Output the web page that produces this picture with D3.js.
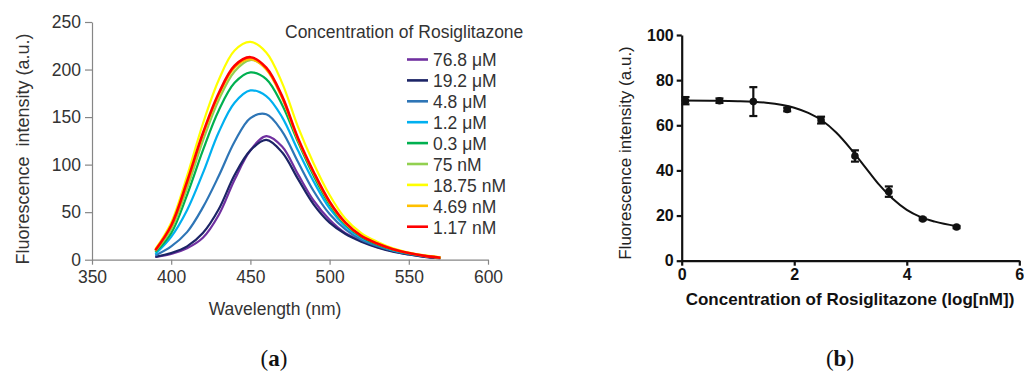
<!DOCTYPE html>
<html>
<head>
<meta charset="utf-8">
<script src="https://cdn.jsdelivr.net/npm/d3@7"></script>
<style>
  body { margin: 0; background: #fff; }
  svg { display: block; font-family: "Liberation Sans", Arial, sans-serif; }
</style>
</head>
<body>
<div id="chart"></div>
<script>
// ---------- DATA (a): emission spectra ----------
wavelengths = [390, 400, 410, 420, 430, 440, 450, 460, 470, 480, 490, 500, 510, 520, 530, 540, 550, 560, 570];
seriesLabels = ["76.8 \u03bcM", "19.2 \u03bcM", "4.8 \u03bcM", "1.2 \u03bcM", "0.3 \u03bcM", "75 nM", "18.75 nM", "4.69 nM", "1.17 nM"];
conc768uM  = [3, 6, 12, 23, 47, 84, 115, 130, 119, 90, 62, 42, 28, 20, 13.5, 9, 5.5, 3, 1.5];
conc192uM  = [3, 7, 14, 28, 53, 89, 115, 126, 113, 85, 58, 39, 27, 19, 13, 8.5, 5.5, 3, 1.5];
conc48uM   = [4.5, 14, 29, 55, 88, 124, 149, 153, 135, 103, 72, 48, 32, 21, 14.5, 9.5, 6, 3.5, 2];
conc12uM   = [6, 24, 52, 91, 134, 165, 178, 172, 150, 115, 82, 54, 35, 23, 16, 10, 6.5, 4, 2];
conc03uM   = [8, 28, 68, 115, 157, 186, 197, 190, 163, 124, 88, 58, 37, 24, 16, 10.5, 6.5, 4, 2];
conc75nM   = [9, 32, 75, 125, 168, 198, 210, 201, 171, 127, 91, 60, 38, 25, 17, 11, 7, 4, 2];
conc1875nM = [11, 39, 88, 143, 189, 220, 229, 218, 186, 140, 101, 68, 43, 28, 19, 12, 7.5, 4.5, 2.5];
conc469nM  = [10, 35, 80, 131, 173, 202, 211, 200, 170, 126, 91, 60, 38, 25, 17, 11, 7, 4, 2];
conc117nM  = [10, 36, 82, 133, 175, 204, 213, 202, 172, 128, 92, 61, 39, 25, 17, 11, 7, 4, 2];
spectra = [conc768uM, conc192uM, conc48uM, conc12uM, conc03uM, conc75nM, conc1875nM, conc469nM, conc117nM];
xTicksA = [350, 400, 450, 500, 550, 600];
yTicksA = [0, 50, 100, 150, 200, 250];

// ---------- DATA (b): dose response ----------
logConc   = [0.068, 0.671, 1.273, 1.875, 2.477, 3.079, 3.681, 4.283, 4.885];
meanInt   = [70.9, 70.9, 70.5, 67.0, 62.3, 46.4, 30.6, 18.5, 14.9];
errInt    = [1.6, 1.0, 6.4, 0.8, 1.5, 2.5, 2.3, 0.5, 0.5];
fitX      = [0, 0.5, 1, 1.5, 2, 2.25, 2.5, 2.75, 3, 3.25, 3.5, 3.75, 4, 4.25, 4.5, 4.885];
fitY      = [71.0, 70.9, 70.7, 70.0, 67.8, 65.5, 62.0, 56.7, 49.7, 41.8, 33.9, 27.4, 22.5, 19.3, 17.3, 15.3];
xTicksB = [0, 2, 4, 6];
yTicksB = [0, 20, 40, 60, 80, 100];

// COLOR LOOKUP
color = function(d) {
  lookup = { "76.8 \u03bcM": "#7030a0",
             "19.2 \u03bcM": "#1c2466",
             "4.8 \u03bcM": "#2e75b6",
             "1.2 \u03bcM": "#00b0f0",
             "0.3 \u03bcM": "#00b050",
             "75 nM": "#92d050",
             "18.75 nM": "#ffff00",
             "4.69 nM": "#ffc000",
             "1.17 nM": "#ff0000" };
  return lookup[d];
}

svg = d3.select("#chart").append("svg")
  .attr("width", 1024)
  .attr("height", 374);

// ================= CHART (a) =================
xA = d3.scaleLinear().domain([350, 600]).range([92, 488]);
yA = d3.scaleLinear().domain([0, 250]).range([259.7, 22]);
axisGrey = "#868686";
textGrey = "#333";

gxA = svg.append("g")
  .attr("transform", "translate(0," + yA(0) + ")")
  .call(d3.axisBottom(xA).tickValues(xTicksA).tickSize(5).tickSizeOuter(0).tickPadding(6));
gyA = svg.append("g")
  .attr("transform", "translate(" + xA(350) + ",0)")
  .call(d3.axisLeft(yA).tickValues(yTicksA).tickSize(7).tickSizeOuter(0).tickPadding(4));

[gxA, gyA].forEach(function(g) {
  g.select(".domain").attr("stroke", axisGrey).attr("stroke-width", 1.2);
  g.selectAll(".tick line").attr("stroke", axisGrey).attr("stroke-width", 1.2);
  g.selectAll(".tick text")
    .attr("fill", textGrey)
    .style("font-size", "17.5px")
    .style("font-family", "'Liberation Sans', Arial, sans-serif");
});

svg.append("text")
  .text("Wavelength (nm)")
  .attr("x", 275).attr("y", 315)
  .attr("text-anchor", "middle")
  .attr("fill", textGrey)
  .style("font-size", "17.5px");

svg.append("text")
  .text("Fluorescence  intensity (a.u.)")
  .attr("transform", "translate(29,149) rotate(-90)")
  .attr("text-anchor", "middle")
  .attr("fill", textGrey)
  .style("white-space", "pre")
  .style("font-size", "18px");

lineA = d3.line()
  .x(function(d, i) { return xA(wavelengths[i]); })
  .y(function(d) { return yA(d); })
  .curve(d3.curveCatmullRom.alpha(0.5));

svg.append("g").selectAll("path")
  .data(spectra)
  .enter()
  .append("path")
    .attr("d", lineA)
    .attr("fill", "none")
    .attr("stroke", function(d, i) { return color(seriesLabels[i]); })
    .attr("stroke-width", function(d, i) { return i == 8 ? 2.6 : 2.2; });

// LEGEND
svg.append("text")
  .text("Concentration of Rosiglitazone")
  .attr("x", 285).attr("y", 37.5)
  .attr("fill", textGrey)
  .style("font-size", "17.5px");

legend = svg.append("g");
legend.selectAll("line")
  .data(seriesLabels)
  .enter()
  .append("line")
    .attr("x1", 407).attr("x2", 428)
    .attr("y1", function(d, i) { return 59.5 + i * 20.9; })
    .attr("y2", function(d, i) { return 59.5 + i * 20.9; })
    .attr("stroke", function(d) { return color(d); })
    .attr("stroke-width", 2.6);
legend.selectAll("text")
  .data(seriesLabels)
  .enter()
  .append("text")
    .text(function(d) { return d; })
    .attr("x", 433)
    .attr("y", function(d, i) { return 66.3 + i * 20.9; })
    .attr("fill", textGrey)
    .style("font-size", "17.5px");

// ================= CHART (b) =================
xB = d3.scaleLinear().domain([0, 6]).range([681.7, 1019.3]);
yB = d3.scaleLinear().domain([0, 100]).range([260.7, 35]);

gxB = svg.append("g")
  .attr("transform", "translate(0," + yB(0) + ")")
  .call(d3.axisBottom(xB).tickValues(xTicksB).tickFormat(d3.format("d")).tickSize(5).tickSizeOuter(0).tickPadding(3));
gyB = svg.append("g")
  .attr("transform", "translate(" + xB(0) + ",0)")
  .call(d3.axisLeft(yB).tickValues(yTicksB).tickFormat(d3.format("d")).tickSize(5).tickSizeOuter(0).tickPadding(3));

[gxB, gyB].forEach(function(g) {
  g.select(".domain").attr("stroke", "#111").attr("stroke-width", 2.2);
  g.selectAll(".tick line").attr("stroke", "#111").attr("stroke-width", 2.2);
  g.selectAll(".tick text")
    .attr("fill", "#111")
    .style("font-size", "16px")
    .style("font-weight", "bold")
    .style("font-family", "'Liberation Sans', Arial, sans-serif");
});

svg.append("text")
  .text("Concentration of Rosiglitazone (log[nM])")
  .attr("x", 850).attr("y", 305)
  .attr("text-anchor", "middle")
  .attr("fill", "#111")
  .style("font-weight", "bold")
  .style("font-size", "17px");

svg.append("text")
  .text("Fluorescence intensity (a.u.)")
  .attr("transform", "translate(631,153) rotate(-90)")
  .attr("text-anchor", "middle")
  .attr("fill", "#222")
  .style("font-size", "17px");

// FIT CURVE
lineB = d3.line()
  .x(function(d, i) { return xB(fitX[i]); })
  .y(function(d) { return yB(d); })
  .curve(d3.curveMonotoneX);

svg.append("path")
  .datum(fitY)
  .attr("d", lineB)
  .attr("fill", "none")
  .attr("stroke", "#111")
  .attr("stroke-width", 2);

// ERROR BARS
errG = svg.append("g").attr("stroke", "#111").attr("stroke-width", 2.2);
errG.selectAll(".vbar")
  .data(meanInt)
  .enter()
  .append("line")
    .attr("x1", function(d, i) { return xB(logConc[i]); })
    .attr("x2", function(d, i) { return xB(logConc[i]); })
    .attr("y1", function(d, i) { return yB(d + errInt[i]); })
    .attr("y2", function(d, i) { return yB(d - errInt[i]); });
[1, -1].forEach(function(s) {
  errG.selectAll(".cap" + s)
    .data(meanInt)
    .enter()
    .append("line")
      .attr("x1", function(d, i) { return xB(logConc[i]) - 4; })
      .attr("x2", function(d, i) { return xB(logConc[i]) + 4; })
      .attr("y1", function(d, i) { return yB(d + s * errInt[i]); })
      .attr("y2", function(d, i) { return yB(d + s * errInt[i]); });
});

// POINTS
svg.append("g").selectAll("circle")
  .data(meanInt)
  .enter()
  .append("circle")
    .attr("cx", function(d, i) { return xB(logConc[i]); })
    .attr("cy", function(d) { return yB(d); })
    .attr("r", 3.8)
    .attr("fill", "#111");

// PANEL LABELS
["a", "b"].forEach(function(k, i) {
  t = svg.append("text")
    .attr("x", i == 0 ? 274 : 840)
    .attr("y", 366)
    .attr("text-anchor", "middle")
    .attr("fill", "#111")
    .style("font-family", "'Liberation Serif', 'DejaVu Serif', serif")
    .style("font-size", "23px");
  t.append("tspan").text("(");
  t.append("tspan").text(k).style("font-weight", "bold");
  t.append("tspan").text(")");
});
</script>
</body>
</html>
